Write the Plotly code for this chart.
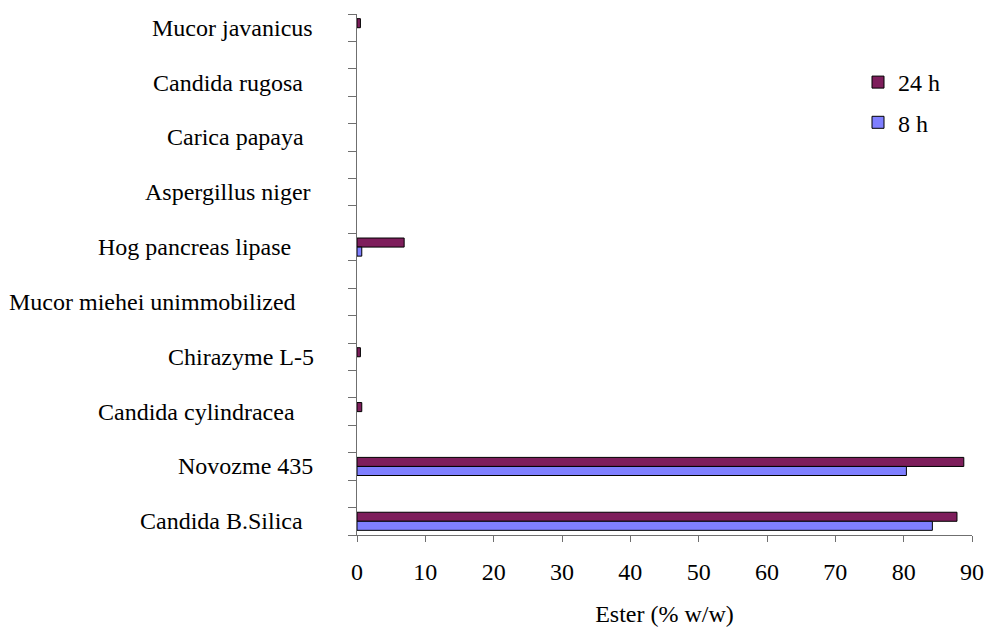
import plotly.graph_objects as go

# Categories listed bottom to top
categories = ["Candida B.Silica", "Novozme 435", "Candida cylindracea", "Chirazyme L-5",
              "Mucor miehei unimmobilized", "Hog pancreas lipase", "Aspergillus niger",
              "Carica papaya", "Candida rugosa", "Mucor javanicus"]
ester_24h = [87.8, 88.8, 0.7, 0.5, 0, 6.9, 0, 0, 0, 0.5]
ester_8h = [84.2, 80.4, 0, 0, 0, 0.7, 0, 0, 0, 0]
x_ticks = [0, 10, 20, 30, 40, 50, 60, 70, 80, 90]

# layout: right edges (px) of the category labels as in the reference
label_right_px = [305, 315, 297, 316, 298, 293, 313, 306, 305, 315]

W, H = 984, 627
L, R, T, B = 357, 12, 14, 92
plot_w = W - L - R
plot_h = H - T - B

FONT = "Liberation Serif, Times New Roman, serif"
FS = 24
pos = [2 * i for i in range(len(categories))]


def nz(vals):
    return [v if v else None for v in vals]


fig = go.Figure()
fig.add_trace(go.Bar(
    y=pos, x=nz(ester_24h), orientation="h", name="24 h",
    marker=dict(color="#7E1E5C", line=dict(color="#000000", width=1)),
    width=0.33, offset=0.0, legendgroup="a",
))
fig.add_trace(go.Bar(
    y=pos, x=nz(ester_8h), orientation="h", name="8 h",
    marker=dict(color="#7F7FFF", line=dict(color="#000000", width=1)),
    width=0.33, offset=-0.33, legendgroup="b",
))

annotations = []
for p, name, rpx in zip(pos, categories, label_right_px):
    annotations.append(dict(
        x=(rpx - L) / plot_w, xref="paper", y=p, yref="y",
        text=name, showarrow=False, xanchor="right", yanchor="middle",
        font=dict(family=FONT, size=FS, color="#000000"),
    ))

fig.update_layout(
    width=W, height=H, autosize=False,
    margin=dict(l=L, r=R, t=T, b=B, pad=0, autoexpand=False),
    paper_bgcolor="white", plot_bgcolor="white",
    barmode="overlay",
    font=dict(family=FONT, size=FS, color="#000000"),
    showlegend=True,
    legend=dict(
        x=(858 - L) / plot_w, y=1 - (60 - T) / plot_h, xanchor="left", yanchor="top",
        bgcolor="rgba(0,0,0,0)", traceorder="grouped", tracegroupgap=6,
        font=dict(family=FONT, size=FS, color="#000000"),
        itemwidth=30,
    ),
    annotations=annotations,
    xaxis=dict(
        range=[0, 90], tickmode="array", tickvals=x_ticks,
        ticktext=[str(v) for v in x_ticks],
        automargin=False,
        showline=True, linecolor="#6f6f6f", linewidth=1.2,
        ticks="outside", ticklen=6, tickcolor="#6f6f6f", tickwidth=1.2,
        ticklabelstandoff=9,
        showgrid=False, zeroline=False,
        tickfont=dict(family=FONT, size=FS, color="#000000"),
        title=dict(text="Ester (% w/w)", standoff=22,
                   font=dict(family=FONT, size=FS, color="#000000")),
    ),
    yaxis=dict(
        range=[-0.5, 18.5], tickmode="array",
        tickvals=[i + 0.5 for i in range(-1, 19)],
        ticktext=["" for _ in range(-1, 19)],
        automargin=False,
        showline=True, linecolor="#6f6f6f", linewidth=1.2,
        ticks="outside", ticklen=8, tickcolor="#6f6f6f", tickwidth=1.2,
        showgrid=False, zeroline=False,
    ),
)

fig.write_html("out.html", config={"displayModeBar": False},
               post_script="document.body.style.margin='0';")
